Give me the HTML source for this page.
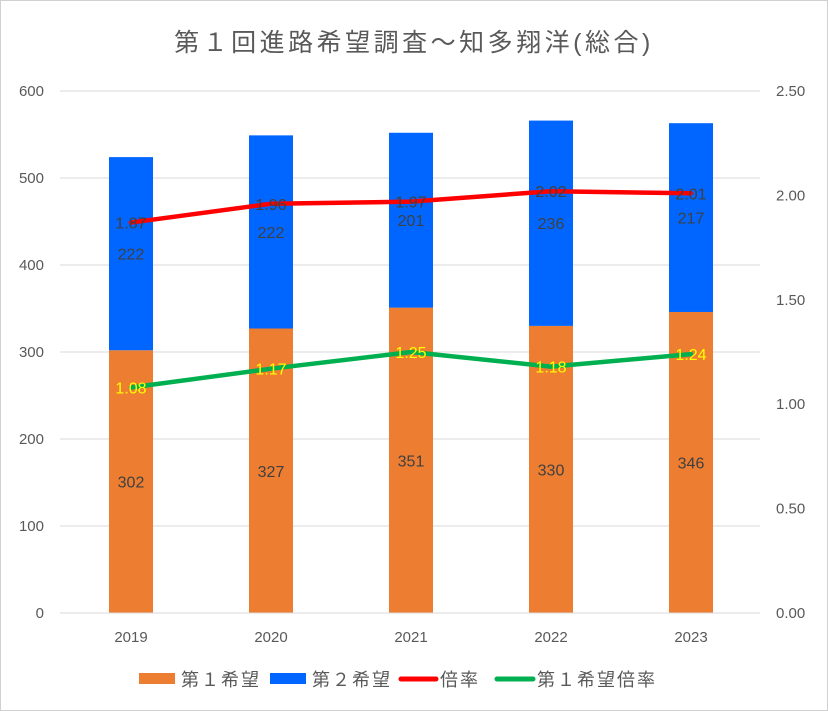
<!DOCTYPE html>
<html><head><meta charset="utf-8"><style>
body{margin:0;background:#fff}
svg{display:block;font-family:"Liberation Sans","Noto Sans CJK JP",sans-serif}
</style></head><body>
<svg id="c" width="828" height="711" viewBox="0 0 828 711">
<rect x="0.5" y="0.5" width="827" height="710" fill="#fff" stroke="#d0d0d0"/>
<text x="414" y="51" font-size="25" letter-spacing="3.5" fill="#595959" text-anchor="middle">第１回進路希望調査～知多翔洋(総合)</text>
<g id="grid"></g><g id="bars"></g><g id="lines"></g><g id="labels"></g><g id="axes"></g>
<g font-size="18" letter-spacing="2" fill="#595959">
<rect x="139" y="673" width="36" height="11" fill="#ed7d31"/>
<text x="181" y="686">第１希望</text>
<rect x="270" y="673" width="36" height="11" fill="#0066ff"/>
<text x="312" y="686">第２希望</text>
<line x1="401" y1="679" x2="436" y2="679" stroke="#ff0000" stroke-width="5" stroke-linecap="round"/>
<text x="440" y="686">倍率</text>
<line x1="497" y1="679" x2="533" y2="679" stroke="#00b050" stroke-width="5" stroke-linecap="round"/>
<text x="537" y="686">第１希望倍率</text>
</g>
</svg>
<script>
const years=["2019","2020","2021","2022","2023"];
const first=[302,327,351,330,346];
const second=[222,222,201,236,217];
const ratio=[1.87,1.96,1.97,2.02,2.01];
const firstRatio=[1.08,1.17,1.25,1.18,1.24];
const leftTicks=[0,100,200,300,400,500,600];
const rightTicks=[0,0.5,1,1.5,2,2.5];
const NS="http://www.w3.org/2000/svg";
const y0=613,y1=91,xL=60,xR=760;
const yL=v=>y0-(v/600)*(y0-y1);
const yR=v=>y0-(v/2.5)*(y0-y1);
const xC=i=>131+i*140;
function mk(p,t,a){const e=document.createElementNS(NS,t);for(const k in a)e.setAttribute(k,a[k]);document.getElementById(p).appendChild(e);return e;}
leftTicks.forEach((t,i)=>{
 const g=mk('grid','line',{x1:xL,x2:xR,y1:yL(t),y2:yL(t),stroke:'#d9d9d9','stroke-width':1});
 
 
 const l=mk('axes','text',{x:44,y:yL(t)+5,'text-anchor':'end','font-size':15,fill:'#595959'});
 l.textContent=t;
 
 
});
rightTicks.forEach(t=>{
 const l=mk('axes','text',{x:776,y:yR(t)+5,'font-size':15,fill:'#595959'});
 l.textContent=t.toFixed(2);
 
 
});
years.forEach((y,i)=>{
 const l=mk('axes','text',{x:xC(i),y:642,'text-anchor':'middle','font-size':15,fill:'#595959'});
 l.textContent=y;
 
 
 const w=44,x=xC(i)-w/2;
 const b1=mk('bars','rect',{x:x,y:yL(first[i]),width:w,height:y0-yL(first[i]),fill:'#ed7d31'});
 
 
 const b2=mk('bars','rect',{x:x,y:yL(first[i]+second[i]),width:w,height:yL(first[i])-yL(first[i]+second[i]),fill:'#0066ff'});
 
 
 const t1=mk('labels','text',{x:xC(i),y:(yL(first[i])+y0)/2+6,'text-anchor':'middle','font-size':16,fill:'#404040'});
 t1.textContent=first[i];
 
 
 const t2=mk('labels','text',{x:xC(i),y:(yL(first[i])+yL(first[i]+second[i]))/2+6,'text-anchor':'middle','font-size':16,fill:'#404040'});
 t2.textContent=second[i];
 
 
 const t3=mk('labels','text',{x:xC(i),y:yR(ratio[i])+6,'text-anchor':'middle','font-size':16,fill:'#404040'});
 t3.textContent=ratio[i].toFixed(2);
 
 
 const t4=mk('labels','text',{x:xC(i),y:yR(firstRatio[i])+6,'text-anchor':'middle','font-size':16,fill:'#ffff00'});
 t4.textContent=firstRatio[i].toFixed(2);
 
 
});
const base=mk('axes','line',{x1:xL,x2:xR,y1:y0,y2:y0,stroke:'#d9d9d9'});


const lr=mk('lines','polyline',{points:ratio.map((v,i)=>xC(i)+','+yR(v)).join(' '),fill:'none',stroke:'#ff0000','stroke-width':4.5,'stroke-linejoin':'round','stroke-linecap':'round'});


const lg=mk('lines','polyline',{points:firstRatio.map((v,i)=>xC(i)+','+yR(v)).join(' '),fill:'none',stroke:'#00b050','stroke-width':4.5,'stroke-linejoin':'round','stroke-linecap':'round'});


</script>
</body></html>
